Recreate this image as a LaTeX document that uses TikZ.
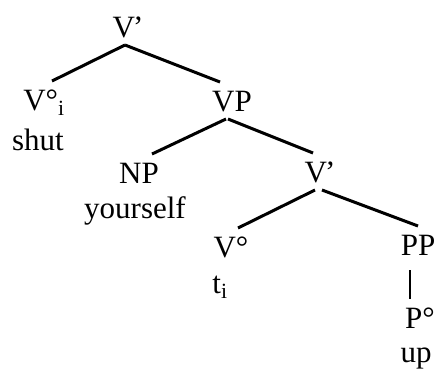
\documentclass[tikz,border=0pt]{standalone}
\usepackage{fontspec}
\setmainfont{Liberation Serif}
\usetikzlibrary{positioning}

\tikzset{
  cat/.style={anchor=base, inner sep=0pt, outer xsep=0pt, outer ysep=8pt,
    text height=21pt, text depth=0pt},
  word/.style={anchor=base, inner sep=0pt},
  branch/.style={line width=3pt},
  stem/.style={line width=1.6pt}
}

\begin{document}
\begin{tikzpicture}[x=1pt, y=-1pt, font=\fontsize{31}{36}\selectfont]
  \useasboundingbox (0,0) rectangle (435,368);
  % categories
  \node[cat] (vtop) at (128,37) {V\kern-2pt’};
  \node[cat] (vi) at (44,110) {V°\textsubscript{i}};
  \node[cat] (vp) at (232,111) {VP};
  \node[cat] (np) at (139,183) {NP};
  \node[cat] (vmid) at (320,182) {V\kern-2pt’};
  \node[cat] (v0) at (231,257) {V°};
  \node[cat] (pp) at (418,255) {PP};
  \node[cat] (pz) at (420,328) {P°};
  % words
  \node[word] (shut) at (38,150) {shut};
  \node[word] (yourself) at (135,218) {yourself};
  \node[word] (ti) at (220,293) {t\textsubscript{i}};
  \node[word] (up) at (416,362) {up};
  % branches
  \draw[branch] ([xshift=-3pt]vtop.south) -- ([xshift=8pt]vi.north);
  \draw[branch] ([xshift=-3pt]vtop.south) -- ([xshift=-12pt]vp.north);
  \draw[branch] ([xshift=-6pt]vp.south) -- ([xshift=13pt]np.north);
  \draw[branch] ([xshift=-4pt]vp.south) -- ([xshift=-7pt]vmid.north);
  \draw[branch] ([xshift=-5pt]vmid.south) -- ([xshift=7pt]v0.north);
  \draw[branch] ([xshift=2pt]vmid.south) -- (pp.north);
  \draw[stem, shorten <=7pt] ([xshift=-8pt]pp.south) -- ([xshift=-10pt]pz.north);
\end{tikzpicture}
\end{document}
